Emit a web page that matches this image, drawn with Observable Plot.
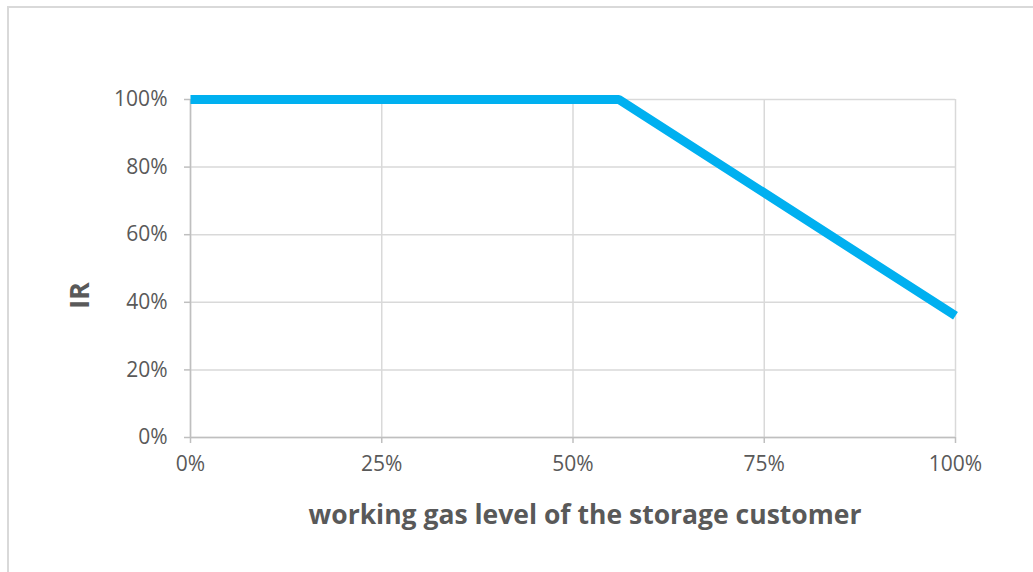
<!DOCTYPE html>
<html>
<head>
<meta charset="utf-8">
<script src="https://cdn.jsdelivr.net/npm/d3@7"></script>
<script src="https://cdn.jsdelivr.net/npm/@observablehq/plot@0.6"></script>
<style>
  html, body { margin: 0; padding: 0; background: #fff; }
  #wrap { position: relative; width: 1033px; height: 572px; overflow: hidden; }
  #frame { position: absolute; left: 7px; top: 6px; width: 1100px; height: 700px;
           border-left: 2px solid #d9d9d9; border-top: 2px solid #d9d9d9; box-sizing: border-box; }
  #chart { position: absolute; left: 0; top: 0; }
</style>
</head>
<body>
<div id="wrap"><div id="frame"></div><div id="chart"></div></div>
<script>
// Data
const gasLevel = [0, 0.56, 1.0];      // working gas level (x)
const irValue  = [1.0, 1.0, 0.36];    // IR (y)
const xTicks = [0, 0.25, 0.5, 0.75, 1.0];
const yTicks = [0, 0.2, 0.4, 0.6, 0.8, 1.0];
const xTitle = "working gas level of the storage customer";
const yTitle = "IR";

const points = gasLevel.map((x, i) => ({x, y: irValue[i]}));
const pct = d3.format(".0%");
const font = "'Open Sans', sans-serif";

const chart = Plot.plot({
  width: 1033,
  height: 572,
  marginLeft: 190,
  marginRight: 78,
  marginTop: 99,
  marginBottom: 135,
  style: {fontFamily: font, background: "transparent"},
  x: {domain: [0, 1]},
  y: {domain: [0, 1]},
  marks: [
    Plot.gridY(yTicks, {stroke: "#d9d9d9", strokeOpacity: 1, strokeWidth: 1.5}),
    Plot.gridX(xTicks, {stroke: "#d9d9d9", strokeOpacity: 1, strokeWidth: 1.5}),
    Plot.ruleY([0], {stroke: "#bfbfbf", strokeWidth: 1.5}),
    Plot.ruleX([0], {stroke: "#bfbfbf", strokeWidth: 1.5}),
    Plot.axisY(yTicks, {tickFormat: pct, tickSize: 6, tickPadding: 17, stroke: "#bfbfbf", strokeWidth: 1.5, fill: "#595959", fontSize: 21, label: null}),
    Plot.axisX(xTicks, {tickFormat: pct, tickSize: 6, tickPadding: 13, stroke: "#bfbfbf", strokeWidth: 1.5, fill: "#595959", fontSize: 21, label: null}),
    Plot.line(points, {x: "x", y: "y", stroke: "#00b0f0", strokeWidth: 9, strokeLinejoin: "miter", strokeLinecap: "butt"}),
    Plot.text([xTitle], {frameAnchor: "bottom", dx: 12, dy: 78, text: d => d, fill: "#595959", fontSize: 26.5, fontWeight: "bold", lineAnchor: "middle"}),
    Plot.text([yTitle], {frameAnchor: "left", dx: -110, dy: 27, text: d => d, rotate: -90, fill: "#595959", fontSize: 26.5, fontWeight: "bold", lineAnchor: "middle", textAnchor: "middle"})
  ]
});
document.getElementById("chart").appendChild(chart);
</script>
</body>
</html>
